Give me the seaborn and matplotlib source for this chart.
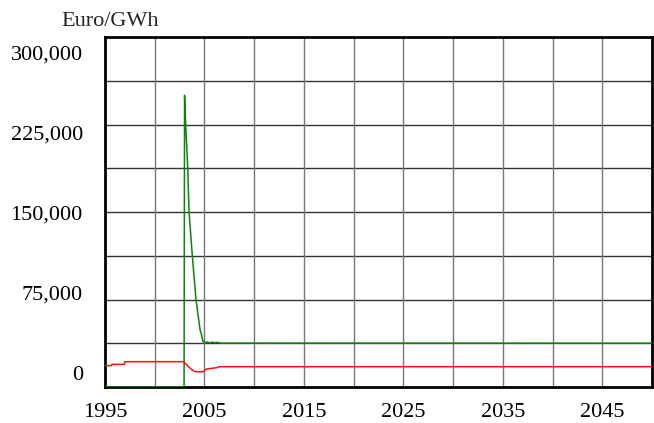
import numpy as np
import pandas as pd
import matplotlib
matplotlib.use("Agg")
import matplotlib.pyplot as plt
import seaborn as sns

# =====================================
# Data
# =====================================

green_years = [1995, 2002.95, 2003.0, 2003.11, 2003.32, 2003.45, 2003.78, 2004.15,
               2004.56, 2004.73, 2004.85, 2005.06, 2005.3, 2005.5, 2005.8, 2006.0,
               2006.3, 2006.6, 2050]
green_values = [0, 0, 250000, 225000, 187500, 150000, 112500, 75000,
                49000, 44000, 39000, 38000, 38600, 37800, 38500, 37900,
                38300, 37600, 37500]

red_years = [1995, 1995.65, 1995.7, 1996.95, 1997.0, 2002.9, 2003.3, 2003.7,
             2004.05, 2004.9, 2005.2, 2006.3, 2006.45, 2050]
red_values = [18300, 18300, 19400, 19400, 21700, 21700, 18300, 15000,
              13100, 13100, 15400, 16600, 17400, 17400]

x_ticks = [1995, 2005, 2015, 2025, 2035, 2045]
y_ticks = [0, 75000, 150000, 225000, 300000]
y_labels = ["0", "75,000", "150,000", "225,000", "300,000"]

# =====================================
# Style
# =====================================

sns.set_style("white")
plt.rcParams["font.family"] = ["Liberation Serif", "DejaVu Serif"]

fig = plt.figure(figsize=(6.54, 4.23), dpi=100)
ax = fig.add_axes([105 / 654, 36 / 423, 547 / 654, 350 / 423])

# grid
for yv in np.arange(37500, 300000, 37500):
    ax.axhline(yv, color="#333333", lw=1.0, zorder=1)
for xv in np.arange(2000, 2050, 5):
    ax.axvline(xv, color="#777777", lw=1.0, zorder=1)

# =====================================
# Lines
# =====================================

sns.lineplot(x=green_years, y=green_values, color="#108010", lw=1.1,
             estimator=None, ax=ax, zorder=3)
sns.lineplot(x=red_years, y=red_values, color="#ff1010", lw=1.1,
             estimator=None, ax=ax, zorder=3)

ax.set_xlim(1995, 2050)
ax.set_ylim(0, 300000)
ax.set_xticks(x_ticks)
ax.set_xticklabels([str(x) for x in x_ticks])

# the labels sit a bit inside the first/last gridline, like the original tool
label_pos = [12000 + v * 0.917 for v in y_ticks]
ax.set_yticks(label_pos)
ax.set_yticklabels(y_labels)
ax.tick_params(axis="both", length=0, labelsize=16, colors="black")
ax.tick_params(axis="y", pad=16)
ax.tick_params(axis="x", pad=11.5)

for s in ax.spines.values():
    s.set_color("black")
    s.set_linewidth(2)

fig.text(61 / 654, 1 - 21 / 423, "Euro/GWh", fontsize=16, ha="left", va="center")

fig.savefig("out.png", dpi=100)
